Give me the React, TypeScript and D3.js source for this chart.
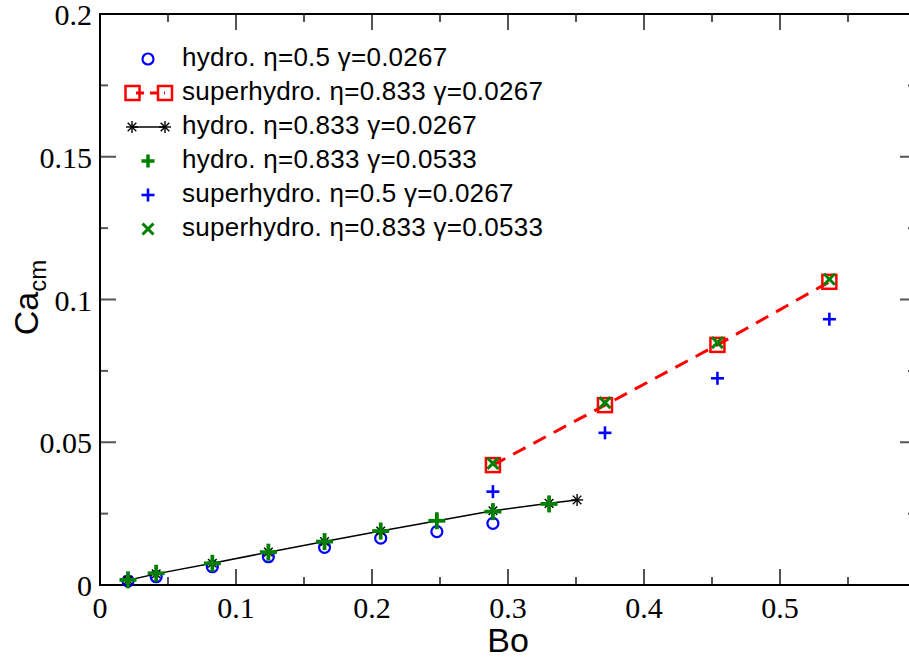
import React from "react";
import * as d3 from "d3";

// ---- data ----
const hydroE05Bo = [0.0206, 0.0413, 0.0826, 0.1238, 0.1651, 0.2064, 0.2477, 0.2889];
const hydroE05Ca = [0.0014, 0.0029, 0.0064, 0.0099, 0.0132, 0.0164, 0.0187, 0.0216];

const superE0833G0267Bo = [0.2889, 0.3713, 0.454, 0.5363];
const superE0833G0267Ca = [0.042, 0.063, 0.0841, 0.1062];

const hydroE0833G0267Bo = [0.0206, 0.0413, 0.0826, 0.1238, 0.1651, 0.2064, 0.2889, 0.3302, 0.3508];
const hydroE0833G0267Ca = [0.0017, 0.0039, 0.0076, 0.0115, 0.0152, 0.0189, 0.026, 0.0286, 0.0298];

const hydroE0833G0533Bo = [0.0206, 0.0413, 0.0826, 0.1238, 0.1651, 0.2064, 0.2477, 0.2889, 0.3302];
const hydroE0833G0533Ca = [0.0018, 0.0041, 0.0076, 0.0115, 0.0152, 0.0189, 0.0225, 0.0257, 0.0284];

const superE05Bo = [0.2889, 0.3713, 0.454, 0.5363];
const superE05Ca = [0.0327, 0.0533, 0.0724, 0.0931];

const superE0833G0533Bo = [0.2889, 0.3713, 0.454, 0.5363];
const superE0833G0533Ca = [0.0426, 0.0639, 0.0849, 0.1071];

const xTicks = [0, 0.1, 0.2, 0.3, 0.4, 0.5, 0.6];
const xTickLabels = ["0", "0.1", "0.2", "0.3", "0.4", "0.5", ""];
const yTicks = [0, 0.05, 0.1, 0.15, 0.2];
const yTickLabels = ["0", "0.05", "0.1", "0.15", "0.2"];

const legendLabels = [
  "hydro. \u03b7=0.5 \u03b3=0.0267",
  "superhydro. \u03b7=0.833 \u03b3=0.0267",
  "hydro. \u03b7=0.833 \u03b3=0.0267",
  "hydro. \u03b7=0.833 \u03b3=0.0533",
  "superhydro. \u03b7=0.5 \u03b3=0.0267",
  "superhydro. \u03b7=0.833 \u03b3=0.0533",
];

const W = 909;
const H = 659;
const L = 100, R = 916, T = 14, B = 585;

const x = d3.scaleLinear().domain([0, 0.6]).range([L, R]);
const y = d3.scaleLinear().domain([0, 0.2]).range([B, T]);

const zip = (a: number[], b: number[]) => a.map((v, i) => [v, b[i]] as [number, number]);

const SERIF = "'Liberation Serif', 'Times New Roman', Times, 'DejaVu Serif', serif";
const SANS = "'Liberation Sans', Arial, Helvetica, sans-serif";

const Circle = ({ cx, cy }: any) => (
  <circle cx={cx} cy={cy} r={5.5} fill="none" stroke="#0000ff" strokeWidth={2.2} />
);
const Square = ({ cx, cy }: any) => (
  <rect x={cx - 7} y={cy - 7} width={14} height={14} fill="none" stroke="#ff0000" strokeWidth={2.5} />
);
const Star = ({ cx, cy }: any) => {
  const s = 6, d = 4.3;
  return (
    <g stroke="#000" strokeWidth={1.4}>
      <line x1={cx - s} y1={cy} x2={cx + s} y2={cy} />
      <line x1={cx} y1={cy - s} x2={cx} y2={cy + s} />
      <line x1={cx - d} y1={cy - d} x2={cx + d} y2={cy + d} />
      <line x1={cx - d} y1={cy + d} x2={cx + d} y2={cy - d} />
    </g>
  );
};
const Plus = ({ cx, cy, color, s, w }: any) => (
  <g stroke={color} strokeWidth={w}>
    <line x1={cx - s} y1={cy} x2={cx + s} y2={cy} />
    <line x1={cx} y1={cy - s} x2={cx} y2={cy + s} />
  </g>
);
const Cross = ({ cx, cy }: any) => {
  const s = 5.5;
  return (
    <g stroke="#008000" strokeWidth={3}>
      <line x1={cx - s} y1={cy - s} x2={cx + s} y2={cy + s} />
      <line x1={cx - s} y1={cy + s} x2={cx + s} y2={cy - s} />
    </g>
  );
};

export default function App() {
  const line = d3.line<[number, number]>().x((d) => x(d[0])).y((d) => y(d[1]));
  const xMinor = d3.range(0.05, 0.6, 0.1);
  const yMinor = d3.range(0.025, 0.2, 0.05);
  const tickColor = "#555";
  const rows = legendLabels.map((_, i) => 59 + 34 * i);

  return (
    <svg width={W} height={H} style={{ position: "absolute", left: 0, top: 0, background: "#fff" }}>
      <rect x={0} y={0} width={W} height={H} fill="#fff" />
      {/* ticks */}
      <g stroke={tickColor} strokeWidth={2}>
        {xTicks.map((t, i) => (
          <g key={"xt" + i}>
            <line x1={x(t)} x2={x(t)} y1={B} y2={B - 16} />
            <line x1={x(t)} x2={x(t)} y1={T} y2={T + 16} />
          </g>
        ))}
        {xMinor.map((t, i) => (
          <g key={"xm" + i}>
            <line x1={x(t)} x2={x(t)} y1={B} y2={B - 8} />
            <line x1={x(t)} x2={x(t)} y1={T} y2={T + 8} />
          </g>
        ))}
        {yTicks.map((t, i) => (
          <g key={"yt" + i}>
            <line x1={L} x2={L + 16} y1={y(t)} y2={y(t)} />
            <line x1={R} x2={R - 16} y1={y(t)} y2={y(t)} />
          </g>
        ))}
        {yMinor.map((t, i) => (
          <g key={"ym" + i}>
            <line x1={L} x2={L + 8} y1={y(t)} y2={y(t)} />
            <line x1={R} x2={R - 8} y1={y(t)} y2={y(t)} />
          </g>
        ))}
      </g>
      <rect x={L} y={T} width={R - L} height={B - T} fill="none" stroke="#000" strokeWidth={2} />

      {/* tick labels */}
      {xTicks.map((t, i) =>
        xTickLabels[i] ? (
          <text key={"xl" + i} x={x(t)} y={B + 33} textAnchor="middle" style={{ fontFamily: SERIF, fontSize: 30 }}>
            {xTickLabels[i]}
          </text>
        ) : null
      )}
      {yTicks.map((t, i) => (
        <text key={"yl" + i} x={92} y={y(t) + 11} textAnchor="end" style={{ fontFamily: SERIF, fontSize: 30 }}>
          {yTickLabels[i]}
        </text>
      ))}

      {/* axis titles */}
      <text x={508} y={652} textAnchor="middle" style={{ fontFamily: SANS, fontSize: 34 }}>
        Bo
      </text>
      <text
        transform={`translate(38, ${y(0.1) - 2}) rotate(-90)`}
        textAnchor="middle"
        style={{ fontFamily: SANS, fontSize: 34 }}
      >
        Ca
        <tspan style={{ fontSize: 24 }} dy={8}>cm</tspan>
      </text>

      {/* series */}
      {zip(hydroE05Bo, hydroE05Ca).map((d, i) => (
        <Circle key={"c" + i} cx={x(d[0])} cy={y(d[1])} />
      ))}
      <path d={line(zip(superE0833G0267Bo, superE0833G0267Ca)) || ""} fill="none" stroke="#ff0000" strokeWidth={3} strokeDasharray="14 9" />
      {zip(superE0833G0267Bo, superE0833G0267Ca).map((d, i) => (
        <Square key={"s" + i} cx={x(d[0])} cy={y(d[1])} />
      ))}
      <path d={line(zip(hydroE0833G0267Bo, hydroE0833G0267Ca)) || ""} fill="none" stroke="#000" strokeWidth={1.5} />
      {zip(hydroE0833G0267Bo, hydroE0833G0267Ca).map((d, i) => (
        <Star key={"st" + i} cx={x(d[0])} cy={y(d[1])} />
      ))}
      {zip(hydroE0833G0533Bo, hydroE0833G0533Ca).map((d, i) => (
        <Plus key={"gp" + i} cx={x(d[0])} cy={y(d[1])} color="#008000" s={8.5} w={3.8} />
      ))}
      {zip(superE05Bo, superE05Ca).map((d, i) => (
        <Plus key={"bp" + i} cx={x(d[0])} cy={y(d[1])} color="#0000ff" s={6.5} w={2.6} />
      ))}
      {zip(superE0833G0533Bo, superE0833G0533Ca).map((d, i) => (
        <Cross key={"gx" + i} cx={x(d[0])} cy={y(d[1])} />
      ))}

      {/* legend */}
      <g>
        <Circle cx={148} cy={rows[0]} />
        <line x1={132} x2={165} y1={rows[1]} y2={rows[1]} stroke="#ff0000" strokeWidth={3} strokeDasharray="8 6" strokeDashoffset={-4} />
        <Square cx={132.5} cy={rows[1]} />
        <Square cx={165} cy={rows[1]} />
        <line x1={132} x2={165} y1={rows[2]} y2={rows[2]} stroke="#000" strokeWidth={1.5} />
        <Star cx={132} cy={rows[2]} />
        <Star cx={165} cy={rows[2]} />
        <Plus cx={148} cy={rows[3]} color="#008000" s={6.5} w={3.5} />
        <Plus cx={148} cy={rows[4]} color="#0000ff" s={6.5} w={2.6} />
        <Cross cx={148} cy={rows[5]} />
        {legendLabels.map((lab, i) => (
          <text key={"lg" + i} x={182} y={rows[i] + 7} style={{ fontFamily: SANS, fontSize: 26, letterSpacing: 0.25 }}>
            {lab}
          </text>
        ))}
      </g>
    </svg>
  );
}
